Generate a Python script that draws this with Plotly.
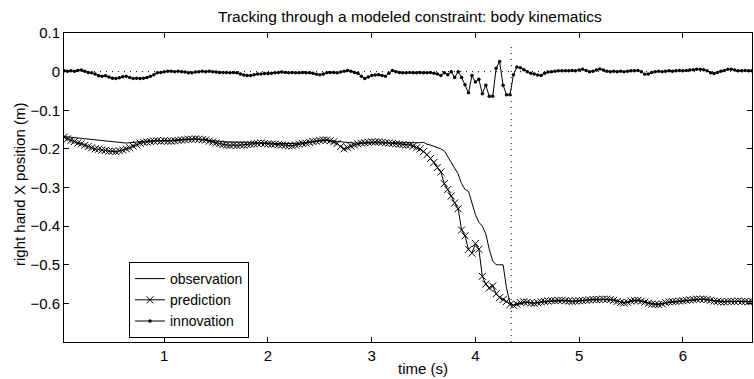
import numpy as np
import plotly.graph_objects as go

frame_rate = 30
n_samples = 200
time = np.arange(1, n_samples + 1) / frame_rate

observation = [
    -0.168, -0.169, -0.170, -0.171, -0.172, -0.173, -0.174, -0.175, -0.176, -0.177,
    -0.178, -0.179, -0.180, -0.181, -0.182, -0.183, -0.184, -0.185, -0.185, -0.184,
    -0.183, -0.182, -0.181, -0.180, -0.179, -0.179, -0.179, -0.179, -0.179, -0.179,
    -0.179, -0.178, -0.177, -0.176, -0.176, -0.175, -0.175, -0.175, -0.175, -0.176,
    -0.176, -0.177, -0.178, -0.179, -0.180, -0.181, -0.181, -0.182, -0.182, -0.182,
    -0.182, -0.183, -0.183, -0.183, -0.184, -0.184, -0.184, -0.184, -0.185, -0.185,
    -0.185, -0.186, -0.186, -0.187, -0.187, -0.187, -0.187, -0.186, -0.185, -0.184,
    -0.183, -0.182, -0.181, -0.180, -0.179, -0.178, -0.178, -0.179, -0.180, -0.181,
    -0.182, -0.183, -0.184, -0.184, -0.185, -0.185, -0.185, -0.184, -0.184, -0.184,
    -0.184, -0.184, -0.184, -0.185, -0.185, -0.185, -0.185, -0.185, -0.185, -0.185,
    -0.185, -0.185, -0.184, -0.184, -0.183, -0.188, -0.190, -0.193, -0.197, -0.200,
    -0.205, -0.220, -0.236, -0.250, -0.265, -0.290, -0.305, -0.310, -0.340, -0.370,
    -0.390, -0.400, -0.420, -0.460, -0.490, -0.500, -0.500, -0.500, -0.560, -0.600,
    -0.605, -0.603, -0.600, -0.598, -0.597, -0.598, -0.599, -0.598, -0.597, -0.596,
    -0.595, -0.594, -0.594, -0.593, -0.593, -0.593, -0.594, -0.594, -0.594, -0.593,
    -0.593, -0.592, -0.591, -0.591, -0.590, -0.590, -0.590, -0.590, -0.591, -0.592,
    -0.594, -0.596, -0.597, -0.597, -0.595, -0.594, -0.593, -0.594, -0.596, -0.598,
    -0.600, -0.601, -0.601, -0.600, -0.598, -0.597, -0.596, -0.595, -0.594, -0.593,
    -0.592, -0.591, -0.591, -0.590, -0.590, -0.590, -0.591, -0.592, -0.593, -0.594,
    -0.595, -0.595, -0.595, -0.595, -0.595, -0.595, -0.595, -0.595, -0.595, -0.595,
]

prediction = [
    -0.170, -0.174, -0.178, -0.181, -0.185, -0.187, -0.191, -0.194, -0.197, -0.200,
    -0.201, -0.203, -0.204, -0.206, -0.206, -0.207, -0.205, -0.203, -0.200, -0.197,
    -0.193, -0.189, -0.185, -0.183, -0.182, -0.181, -0.180, -0.179, -0.180, -0.179,
    -0.180, -0.180, -0.179, -0.178, -0.177, -0.176, -0.175, -0.175, -0.174, -0.175,
    -0.176, -0.177, -0.180, -0.182, -0.185, -0.187, -0.189, -0.190, -0.191, -0.190,
    -0.191, -0.190, -0.190, -0.189, -0.188, -0.187, -0.186, -0.185, -0.186, -0.187,
    -0.188, -0.188, -0.189, -0.190, -0.191, -0.192, -0.192, -0.190, -0.188, -0.186,
    -0.185, -0.183, -0.181, -0.180, -0.178, -0.177, -0.177, -0.179, -0.182, -0.186,
    -0.194, -0.200, -0.197, -0.193, -0.190, -0.187, -0.185, -0.184, -0.183, -0.182,
    -0.182, -0.182, -0.183, -0.184, -0.185, -0.186, -0.187, -0.188, -0.189, -0.190,
    -0.190, -0.193, -0.197, -0.200, -0.207, -0.215, -0.225, -0.235, -0.248, -0.260,
    -0.290, -0.305, -0.322, -0.340, -0.355, -0.410, -0.425, -0.460, -0.470, -0.445,
    -0.460, -0.530, -0.550, -0.560, -0.555, -0.575, -0.585, -0.590, -0.595, -0.603,
    -0.605, -0.602, -0.598, -0.596, -0.597, -0.599, -0.600, -0.598, -0.596, -0.595,
    -0.594, -0.593, -0.593, -0.592, -0.592, -0.593, -0.594, -0.595, -0.594, -0.593,
    -0.593, -0.592, -0.591, -0.590, -0.590, -0.590, -0.589, -0.589, -0.590, -0.592,
    -0.595, -0.598, -0.599, -0.597, -0.594, -0.592, -0.592, -0.594, -0.597, -0.600,
    -0.602, -0.603, -0.603, -0.601, -0.598, -0.596, -0.595, -0.595, -0.594, -0.593,
    -0.592, -0.591, -0.590, -0.589, -0.589, -0.589, -0.590, -0.592, -0.594, -0.595,
    -0.596, -0.596, -0.595, -0.595, -0.595, -0.594, -0.595, -0.595, -0.596, -0.595,
]

innovation = [
    0.002, 0.001, 0.002, 0.001, 0.003, 0.004, 0.001, -0.002, -0.003, -0.006,
    -0.011, -0.012, -0.011, -0.014, -0.017, -0.018, -0.016, -0.013, -0.012, -0.015,
    -0.018, -0.017, -0.018, -0.017, -0.015, -0.012, -0.008, -0.003, -0.002, 0.000,
    0.001, 0.001, 0.000, 0.001, 0.000, -0.001, -0.003, -0.003, -0.001, 0.000,
    0.001, 0.000, 0.001, 0.000, -0.001, -0.002, -0.002, -0.002, -0.003, -0.002,
    -0.003, -0.006, -0.009, -0.010, -0.010, -0.008, -0.006, -0.006, -0.005, -0.005,
    -0.004, -0.003, -0.002, -0.001, -0.002, -0.003, -0.002, -0.003, -0.003, -0.002,
    -0.003, -0.003, -0.004, -0.007, -0.008, -0.006, -0.003, -0.002, -0.002, -0.003,
    -0.001, 0.001, 0.003, 0.001, -0.002, -0.004, -0.012, -0.018, -0.014, -0.010,
    -0.009, -0.008, -0.010, -0.012, -0.004, 0.003, 0.000, -0.002, -0.003, -0.003,
    -0.002, -0.003, -0.003, -0.002, -0.003, -0.003, -0.002, -0.004, -0.006, -0.010,
    -0.003, -0.008, 0.000, -0.015, 0.000, -0.015, -0.034, -0.055, -0.010, -0.027,
    -0.020, -0.057, -0.035, -0.064, -0.064, 0.009, 0.026, -0.035, -0.060, -0.060,
    -0.008, 0.012, 0.010, 0.005, 0.000, -0.004, -0.006, -0.009, -0.010, -0.004,
    -0.001, 0.000, 0.001, 0.002, 0.002, 0.002, 0.002, 0.003, 0.002, 0.004,
    0.006, 0.003, 0.000, 0.001, 0.004, 0.007, 0.004, 0.001, 0.000, 0.001,
    0.000, 0.001, 0.000, 0.001, 0.002, 0.002, 0.003, 0.000, -0.007, -0.006,
    -0.002, 0.000, 0.001, 0.000, 0.001, 0.002, 0.001, 0.002, 0.003, 0.002,
    0.003, 0.004, 0.005, 0.006, 0.006, 0.005, 0.002, -0.003, -0.005, -0.002,
    0.001, 0.003, 0.006, 0.006, 0.004, 0.002, 0.002, 0.003, 0.002, 0.002,
]

constraint_time = 4.345
zero_level = 0.0
x_ticks = [1, 2, 3, 4, 5, 6]
y_ticks = [-0.6, -0.5, -0.4, -0.3, -0.2, -0.1, 0, 0.1]
y_tick_text = ["\u22120.6", "\u22120.5", "\u22120.4", "\u22120.3", "\u22120.2", "\u22120.1", "0", "0.1"]

FONT = "Liberation Sans, Arial, Helvetica, sans-serif"

fig = go.Figure()
fig.add_trace(go.Scatter(
    x=time, y=observation, name="observation", mode="lines",
    line=dict(color="black", width=1),
))
fig.add_trace(go.Scatter(
    x=time, y=prediction, name="prediction", mode="lines+markers",
    line=dict(color="black", width=1),
    marker=dict(symbol="x-thin", size=7, color="black", line=dict(color="black", width=1)),
))
fig.add_trace(go.Scatter(
    x=time, y=innovation, name="innovation", mode="lines+markers",
    line=dict(color="black", width=1),
    marker=dict(symbol="circle", size=3.5, color="black"),
))

fig.add_shape(type="line", xref="x", yref="y", x0=time[0], x1=time[-1], y0=zero_level, y1=zero_level,
              line=dict(color="black", width=1, dash="1px,5px"), layer="below")
fig.add_shape(type="line", xref="x", yref="y", x0=constraint_time, x1=constraint_time, y0=-0.7, y1=0.075,
              line=dict(color="black", width=1, dash="1px,5px"), layer="below")

axis_common = dict(
    showline=True, linecolor="black", linewidth=1, mirror="allticks",
    ticks="inside", ticklen=5, tickcolor="black", tickwidth=1,
    showgrid=False, zeroline=False,
    tickfont=dict(family=FONT, size=15, color="black"),
)

fig.update_xaxes(range=[time[0], time[-1]], tickvals=x_ticks, **axis_common)
fig.update_yaxes(range=[-0.7, 0.1], tickvals=y_ticks, ticktext=y_tick_text, **axis_common)

fig.add_annotation(text="Tracking through a modeled constraint: body kinematics",
                   xref="paper", yref="paper", x=(410 - 64) / 688, y=1 + (33 - 16) / 309,
                   xanchor="center", yanchor="middle", showarrow=False,
                   font=dict(family=FONT, size=15.5, color="black"))
fig.add_annotation(text="time (s)", xref="paper", yref="paper",
                   x=(423 - 64) / 688, y=-(368 - 342) / 309,
                   xanchor="center", yanchor="middle", showarrow=False,
                   font=dict(family=FONT, size=15, color="black"))
fig.add_annotation(text="right hand X position (m)", xref="paper", yref="paper",
                   x=(19 - 64) / 688, y=(342 - 185) / 309, textangle=-90,
                   xanchor="center", yanchor="middle", showarrow=False,
                   font=dict(family=FONT, size=15, color="black"))

fig.update_layout(
    width=754, height=379,
    margin=dict(l=64, r=2, t=33, b=37, pad=0),
    paper_bgcolor="white", plot_bgcolor="white",
    font=dict(family=FONT, size=15, color="black"),
    showlegend=True,
    legend=dict(x=(129 - 64) / 688, y=(342 - 262) / 309, xanchor="left", yanchor="top",
                bordercolor="black", borderwidth=1, bgcolor="white",
                font=dict(family=FONT, size=14, color="black"),
                tracegroupgap=0, itemwidth=30),
)

fig.write_html("out.html")
